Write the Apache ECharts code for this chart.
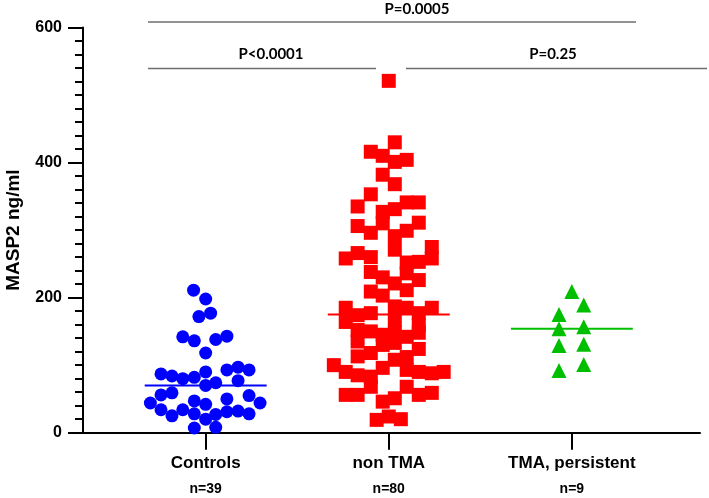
<!DOCTYPE html>
<html>
<head>
<meta charset="utf-8">
<script src="https://cdn.jsdelivr.net/npm/echarts@6/dist/echarts.min.js"></script>
<style>
  html, body { margin: 0; padding: 0; background: #fff; }
  #chart { width: 709px; height: 498px; }
</style>
</head>
<body>
<div id="chart"></div>
<script>
const categories = ["Controls", "non TMA", "TMA, persistent"];
const groupCounts = ["n=39", "n=80", "n=9"];
const yTicks = [0, 200, 400, 600];

// MASP2 values (ng/ml) and horizontal spread (category units)
const controlsValues = [211, 198, 172, 177, 142, 136, 138, 143, 118, 87, 84, 80, 82, 90, 93, 97, 93, 77, 70, 74,
  56, 59, 44, 47, 42, 50, 55, 44, 34, 25, 34, 28, 20, 27, 31, 32, 28, 7, 8];
const controlsJitter = [-0.066, 0, -0.037, 0.027, -0.125, -0.062, 0.055, 0.116, 0, -0.244, -0.184, -0.125, -0.062, 0, 0.116, 0.177, 0.237, 0.177, 0, 0.055,
  -0.244, -0.184, -0.302, -0.062, 0, 0.116, 0.237, 0.297, -0.244, -0.184, -0.125, -0.062, 0, 0.055, 0.116, 0.177, 0.237, -0.062, 0.055];

const nonTmaValues = [521, 430, 416, 410, 401, 404, 382, 368, 353, 335, 327, 331, 341, 341, 306, 296, 310, 291, 299, 311,
  275, 271, 266, 258, 260, 252, 253, 258, 238, 230, 236, 226, 221, 211, 209, 203, 185, 164, 174, 177,
  187, 167, 185, 177, 185, 159, 152, 150, 145, 148, 142, 148, 135, 130, 133, 124, 113, 118, 112, 100,
  90, 85, 83, 96, 108, 93, 90, 88, 90, 68, 68, 56, 56, 46, 56, 59, 19, 24, 20, 51];
const nonTmaJitter = [0, 0.033, -0.098, -0.033, 0.033, 0.098, -0.033, 0.033, -0.098, -0.17, -0.033, 0.033, 0.098, 0.164, -0.17, -0.098, -0.033, 0.033, 0.098, 0.164,
  0.235, 0.033, -0.17, -0.235, -0.098, 0.098, 0.164, 0.235, -0.098, -0.033, 0.098, 0.164, 0.033, 0.098, -0.098, -0.033, -0.235, -0.235, -0.17, -0.098,
  0.033, 0.033, 0.098, 0.164, 0.235, 0.164, -0.17, -0.098, -0.033, 0.033, 0.098, 0.164, -0.17, -0.033, 0.033, 0.164, -0.17, -0.098, 0.098, -0.30,
  -0.235, -0.17, -0.098, -0.033, 0.033, 0.098, 0.164, 0.235, 0.30, -0.098, 0.098, -0.235, -0.17, -0.033, 0.164, 0.235, -0.066, 0, 0.066, 0.033];

const tmaValues = [209, 189, 175, 154, 157, 129, 131, 92, 101];
const tmaJitter = [0, 0.065, -0.07, -0.07, 0.065, -0.07, 0.065, -0.07, 0.065];

const medians = [70, 175, 154];
const pLabels = ["P<0.0001", "P=0.25", "P=0.0005"];

const colors = ["#0000ff", "#ff0000", "#00bf00"];

function points(values, jitter, pos) {
  return values.map((v, i) => [pos + jitter[i], v]);
}

function medianLine(i) {
  const pos = i + 1;
  return {
    type: "line",
    data: [[pos - 0.333, medians[i]], [pos + 0.333, medians[i]]],
    symbol: "none",
    lineStyle: { color: colors[i], width: 2 },
    z: 5,
    silent: true,
  };
}

const chart = echarts.init(document.getElementById("chart"));

const pFont = "bold 15px Lato, 'Liberation Sans', sans-serif";
const bracketStyle = { stroke: "#6e6e6e", lineWidth: 1.5 };
const axisFont = "Arial, 'Liberation Sans'";

chart.setOption({
  animation: false,
  grid: { left: 83, right: 9, top: 27.5, bottom: 65.3, outerBoundsMode: "none" },
  xAxis: {
    type: "value",
    min: 0.33,
    max: 3.7,
    splitLine: { show: false },
    axisLine: { lineStyle: { color: "#000", width: 2 } },
    axisTick: { customValues: [1, 2, 3], length: 17, lineStyle: { color: "#000", width: 2 } },
    axisLabel: {
      customValues: [1, 2, 3],
      margin: 21,
      formatter: (v) => "{a|" + categories[Math.round(v) - 1] + "}\n{b|" + groupCounts[Math.round(v) - 1] + "}",
      rich: {
        a: { fontFamily: axisFont, fontWeight: "bold", fontSize: 17, color: "#000", lineHeight: 20 },
        b: { fontFamily: axisFont, fontWeight: "bold", fontSize: 14, color: "#000", lineHeight: 30 },
      },
    },
  },
  yAxis: {
    type: "value",
    min: 0,
    max: 600,
    interval: 200,
    name: "MASP2 ng/ml",
    nameLocation: "middle",
    nameGap: 60,
    nameTextStyle: { fontFamily: axisFont, fontWeight: "bold", fontSize: 19, color: "#000" },
    splitLine: { show: false },
    axisLine: { show: true, lineStyle: { color: "#000", width: 2 } },
    axisTick: { show: true, length: 15, lineStyle: { color: "#000", width: 2 } },
    minorTick: { show: true, splitNumber: 10, length: 8, lineStyle: { color: "#000", width: 2 } },
    axisLabel: {
      margin: 21,
      fontFamily: axisFont,
      fontWeight: "bold",
      fontSize: 16,
      color: "#000",
      formatter: (v) => (yTicks.includes(v) ? String(v) : ""),
    },
  },
  series: [
    {
      name: categories[0],
      type: "scatter",
      data: points(controlsValues, controlsJitter, 1),
      symbol: "circle",
      symbolSize: 13,
      itemStyle: { color: colors[0], opacity: 1 },
    },
    {
      name: categories[1],
      type: "scatter",
      data: points(nonTmaValues, nonTmaJitter, 2),
      symbol: "rect",
      symbolSize: 14,
      itemStyle: { color: colors[1], opacity: 1 },
    },
    {
      name: categories[2],
      type: "scatter",
      data: points(tmaValues, tmaJitter, 3),
      symbol: "triangle",
      symbolSize: 15,
      itemStyle: { color: colors[2], opacity: 1 },
    },
    medianLine(0),
    medianLine(1),
    medianLine(2),
  ],
  graphic: [
    { type: "line", shape: { x1: 148, y1: 22, x2: 636, y2: 22 }, style: bracketStyle },
    { type: "line", shape: { x1: 148, y1: 68.5, x2: 376, y2: 68.5 }, style: bracketStyle },
    { type: "line", shape: { x1: 406, y1: 68.5, x2: 707, y2: 68.5 }, style: bracketStyle },
    { type: "text", x: 271, y: 54, style: { text: pLabels[0], font: pFont, fill: "#000", align: "center", verticalAlign: "middle" } },
    { type: "text", x: 553, y: 54, style: { text: pLabels[1], font: pFont, fill: "#000", align: "center", verticalAlign: "middle" } },
    { type: "text", x: 417, y: 9, style: { text: pLabels[2], font: pFont, fill: "#000", align: "center", verticalAlign: "middle" } },
  ],
});
</script>
</body>
</html>
